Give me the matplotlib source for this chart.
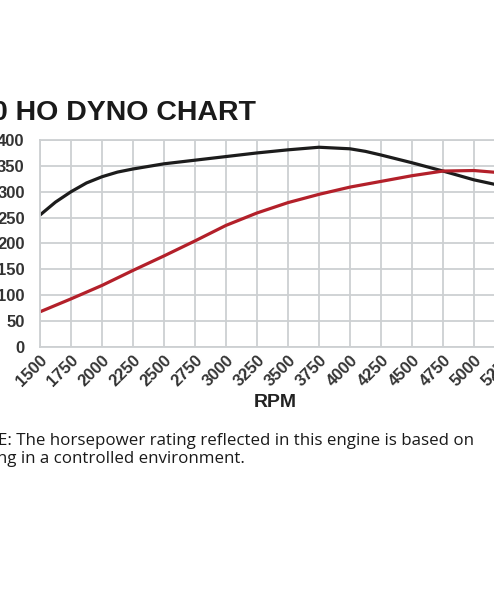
import matplotlib.pyplot as plt

plt.rcParams['font.family'] = ['Liberation Sans', 'DejaVu Sans']

# values
rpm_ticks = [1500, 1750, 2000, 2250, 2500, 2750, 3000, 3250, 3500, 3750,
             4000, 4250, 4500, 4750, 5000, 5250]
y_ticks = [0, 50, 100, 150, 200, 250, 300, 350, 400]

torque_rpm = [1500, 1625, 1750, 1875, 2000, 2125, 2250, 2500, 2750, 3000,
              3250, 3500, 3750, 4000, 4125, 4250, 4500, 4750, 5000, 5250]
torque = [255, 280, 300, 317, 329, 338, 344, 354, 361, 368,
          375, 381, 386, 383, 378, 371, 356, 340, 323, 310]

hp_rpm = [1500, 1750, 2000, 2250, 2500, 2750, 3000, 3250, 3500, 3750,
          4000, 4250, 4500, 4750, 5000, 5250]
hp = [68, 93, 119, 148, 176, 205, 235, 259, 279, 295,
      309, 320, 331, 340, 341, 336]

W, H = 494, 592
fig = plt.figure(figsize=(W / 100, H / 100), dpi=100)

# axes runs from 1500 at x=40 px to 5250 at x=505 px (past the crop)
ax = fig.add_axes([40 / W, (H - 347) / H, (505 - 40) / W, (347 - 140) / H])
ax.set_xlim(1500, 5250)
ax.set_ylim(0, 400)
ax.set_xticks(rpm_ticks)
ax.set_yticks(y_ticks)
ax.grid(True, color='#cdd0d2', lw=1.3)
ax.set_axisbelow(True)
for s in ax.spines.values():
    s.set_color('#cdd0d2')
    s.set_linewidth(1.3)
ax.tick_params(length=0, labelsize=12, labelcolor='#333333')
ax.tick_params(axis='y', pad=11)
for lab in ax.get_xticklabels():
    lab.set_rotation(45)
    lab.set_ha('right')
    lab.set_va('top')
    lab.set_rotation_mode('anchor')
    lab.set_fontweight('bold')
for lab in ax.get_yticklabels():
    lab.set_fontweight('bold')
ax.tick_params(axis='x', pad=4)

ax.plot(torque_rpm, torque, color='#1c1c1c', lw=2.3, solid_capstyle='butt')
ax.plot(hp_rpm, hp, color='#b3202a', lw=2.3, solid_capstyle='butt')

ax.set_xlabel('RPM', fontsize=14, fontweight='bold', color='#222222', labelpad=2)
ax.xaxis.set_label_coords((275 - 40) / (505 - 40), -0.225)

fig.text(-8 / W, 1 - 113 / H, '0 HO DYNO CHART', fontsize=20.5, fontweight='bold',
         color='#1a1a1a', va='center', ha='left')

fig.text(-37 / W, 1 - 450 / H,
         'NOTE: The horsepower rating reflected in this engine is based on\n'
         'testing in a controlled environment.',
         fontsize=12.2, family=['Open Sans', 'DejaVu Sans'], color='#1a1a1a',
         va='center', ha='left', linespacing=1.2)

fig.savefig('out.png', dpi=100)
